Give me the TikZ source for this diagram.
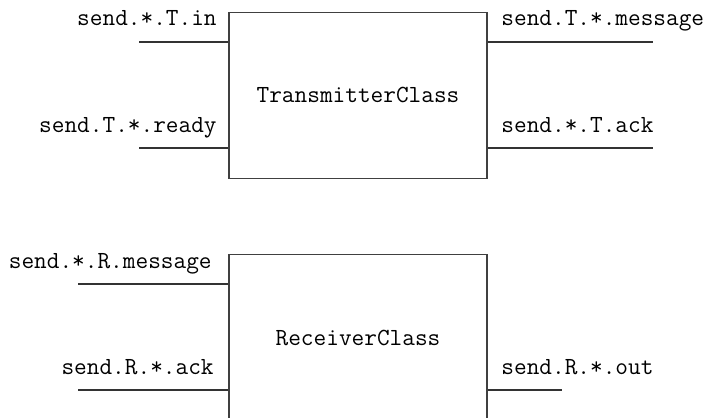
\documentclass[tikz,border=0pt]{standalone}
\begin{document}
\begin{tikzpicture}[x=0.5pt,y=-0.5pt,
  box/.style={draw=black!75,line width=0.55pt,rectangle,inner sep=0pt,
    minimum width=129pt,minimum height=83pt,
    font=\fontsize{12.3}{14}\selectfont\ttfamily},
  port/.style={draw=black!80,line width=0.55pt},
  lbl/.style={inner sep=0pt,font=\fontsize{12.3}{14}\selectfont\ttfamily}]
\useasboundingbox (0,0) rectangle (704,417);

% components
\node[box] (tx) at (358,95.25) {TransmitterClass};
\node[box] (rx) at (358,337.5) {ReceiverClass};

% free ends of the ports
\coordinate (tin)  at (139,42);
\coordinate (trdy) at (139,148);
\coordinate (tmsg) at (653,42);
\coordinate (tack) at (653,148);
\coordinate (rmsg) at (78,284);
\coordinate (rack) at (78,390);
\coordinate (rout) at (562,390);

% port wires
\draw[port] (tin)  -- (tx.west |- tin);
\draw[port] (trdy) -- (tx.west |- trdy);
\draw[port] (tx.east |- tmsg) -- (tmsg);
\draw[port] (tx.east |- tack) -- (tack);
\draw[port] (rmsg) -- (rx.west |- rmsg);
\draw[port] (rack) -- (rx.west |- rack);
\draw[port] (rx.east |- rout) -- (rout);

% port names
\node[lbl,anchor=base east] (ltin)  at (217,26)  {send.*.T.in};
\node[lbl,anchor=base east] (ltrdy) at (217,132) {send.T.*.ready};
\node[lbl,anchor=base west] (ltmsg) at (501,26)  {send.T.*.message};
\node[lbl,anchor=base west] (ltack) at (501,132) {send.*.T.ack};
\node[lbl,anchor=base east] (lrmsg) at (212,268) {send.*.R.message};
\node[lbl,anchor=base east] (lrack) at (214,374) {send.R.*.ack};
\node[lbl,anchor=base west] (lrout) at (501,374) {send.R.*.out};
\end{tikzpicture}
\end{document}
